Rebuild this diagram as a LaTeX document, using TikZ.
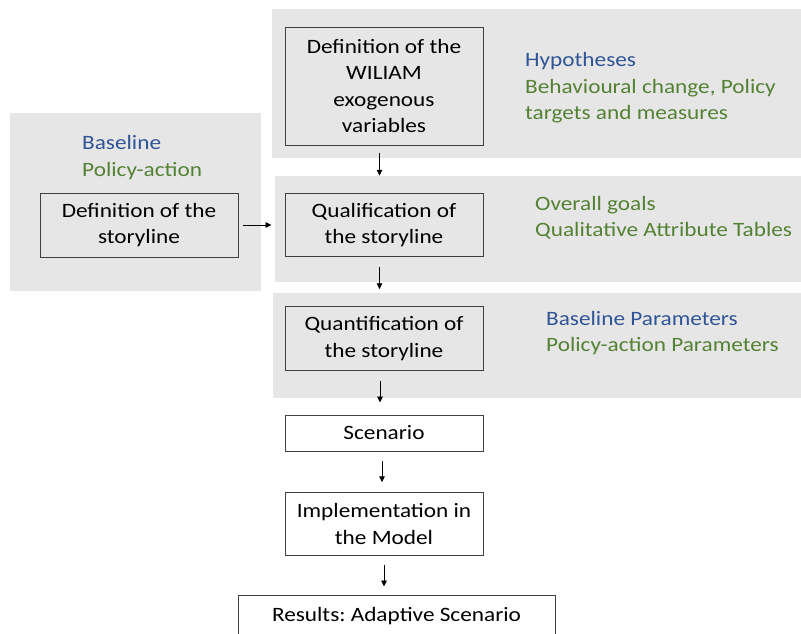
\documentclass[tikz,border=0pt]{standalone}
\usepackage{fontspec}
\setmainfont[FakeStretch=1.14]{Carlito}
\usetikzlibrary{arrows.meta}
\frenchspacing

\definecolor{panelgrey}{HTML}{E7E6E6}
\definecolor{boxline}{HTML}{404040}
\definecolor{hypblue}{HTML}{2F5597}
\definecolor{actgreen}{HTML}{548235}

\tikzset{
  txt/.style={font=\fontsize{20.4}{26.5}\selectfont},
  panel/.style={fill=panelgrey},
  stepbox/.style={txt, draw=boxline, line width=0.95pt, minimum width=198pt, align=center, inner sep=0pt},
  note/.style={txt, anchor=base west, inner sep=0pt},
  flow/.style={-{Triangle[length=6pt,width=5.5pt]}, line width=0.9pt},
}

\begin{document}
\begin{tikzpicture}[x=1pt, y=-1pt]
    \useasboundingbox (0,0) rectangle (801,633);
    % grey panels
    \fill[panel] (272,9) rectangle (801,157.5);
    \fill[panel] (275,176) rectangle (801,281.5);
    \fill[panel] (272.5,292.5) rectangle (801,398);
    \fill[panel] (10,113) rectangle (261,291);

    \node[stepbox, minimum height=118pt] (wiliam) at (384,86) {Definition of the\\WILIAM\\exogenous\\variables};
    \node[stepbox, minimum height=64pt] (story) at (139,225) {Definition of the\\storyline};
    \node[stepbox, minimum height=63.5pt] (quali) at (384,225) {Qualification of\\the storyline};
    \node[stepbox, minimum height=63.5pt] (quanti) at (384,338.5) {Quantification of\\the storyline};
    \node[stepbox, minimum height=36pt] (scen) at (384,433) {Scenario};
    \node[stepbox, minimum height=62.5pt] (impl) at (384,524) {Implementation in\\the Model};
    \node[stepbox, minimum height=42pt, minimum width=317pt] (results) at (396.5,616) {Results: Adaptive Scenario};

    \node[note, text=hypblue] (hyp) at (525,66.5) {Hypotheses};
    \node[note, text=actgreen] (behav) at (525,93) {Behavioural change, Policy};
    \node[note, text=actgreen] (targets) at (525,119.5) {targets and measures};
    \node[note, text=hypblue] (base) at (82,149.5) {Baseline};
    \node[note, text=actgreen] (polact) at (82,176.5) {Policy-action};
    \node[note, text=actgreen] (goals) at (535,210) {Overall goals};
    \node[note, text=actgreen] (qat) at (535,236) {Qualitative Attribute Tables};
    \node[note, text=hypblue] (bpar) at (546,325.5) {Baseline Parameters};
    \node[note, text=actgreen] (ppar) at (546,351.5) {Policy-action Parameters};

    \draw[flow, shorten <=5pt, shorten >=13pt] (story) -- (quali);
    \draw[flow, shorten <=8pt, shorten >=17pt] ([xshift=-4.5pt]wiliam.south) -- ([xshift=-4.5pt]quali.north);
    \draw[flow, shorten <=10pt, shorten >=17pt] ([xshift=-4.5pt]quali.south) -- ([xshift=-4.5pt]quanti.north);
    \draw[flow, shorten <=10pt, shorten >=12pt] ([xshift=-4pt]quanti.south) -- ([xshift=-4pt]scen.north);
    \draw[flow, shorten <=9.5pt, shorten >=10pt] ([xshift=-2pt]scen.south) -- ([xshift=-2pt]impl.north);
    \draw[flow, shorten <=9pt, shorten >=8pt] (impl.south) -- (impl.south |- results.north);
  \end{tikzpicture}
\end{document}
